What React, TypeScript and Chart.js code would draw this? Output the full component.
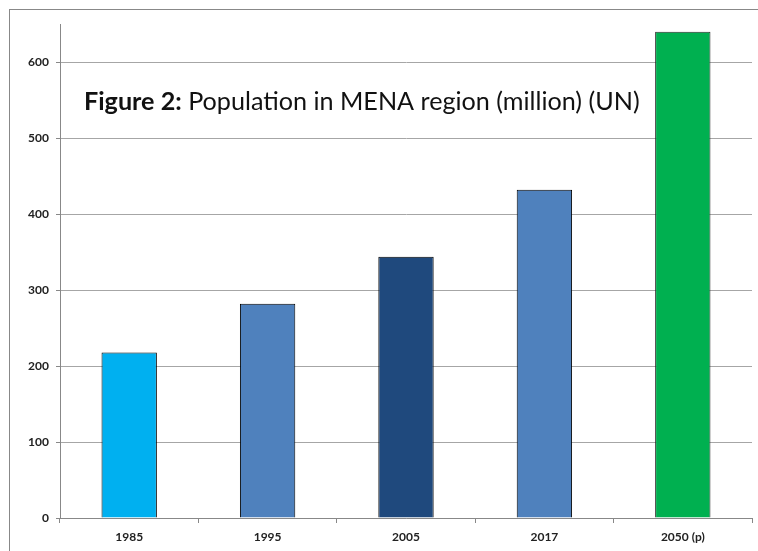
import React, { useEffect, useRef } from "react";
import { Chart, registerables } from "chart.js";

Chart.register(...registerables);

const categories = ["1985", "1995", "2005", "2017", "2050 (p)"];
const population = [218, 282, 344, 432, 640];
const barColors = ["#00B0F0", "#4F81BD", "#1F497D", "#4F81BD", "#00B050"];
const barBorders = ["#000000", "#000000", "#000000", "#000000", "#2a2a2a"];
const yTicks = [0, 100, 200, 300, 400, 500, 600];
const yMin = 0;
const yMax = 650;
const titleBold = "Figure 2:";
const titleRest = " Population in MENA region (million) (UN)";

const FONT = "Lato, 'Open Sans', 'DejaVu Sans', sans-serif";

const titlePlugin = {
  id: "insideTitle",
  afterDraw(chart: any) {
    const ctx = chart.ctx as CanvasRenderingContext2D;
    const area = chart.chartArea;
    const targetWidth = 556;
    ctx.save();
    let size = 24;
    ctx.font = `bold ${size}px ${FONT}`;
    const w1 = ctx.measureText(titleBold).width;
    ctx.font = `${size}px ${FONT}`;
    const w2 = ctx.measureText(titleRest).width;
    size = (size * targetWidth) / (w1 + w2);
    const x = area.left + 24;
    const y = 100;
    ctx.fillStyle = "#111111";
    ctx.textBaseline = "alphabetic";
    ctx.textAlign = "left";
    ctx.font = `bold ${size}px ${FONT}`;
    ctx.fillText(titleBold, x, y);
    const bw = ctx.measureText(titleBold).width;
    ctx.font = `${size}px ${FONT}`;
    ctx.fillText(titleRest, x + bw, y);
    ctx.restore();
  },
};

export default function App() {
  const canvasRef = useRef<HTMLCanvasElement | null>(null);

  useEffect(() => {
    if (!canvasRef.current) return;
    const chart = new Chart(canvasRef.current, {
      type: "bar",
      data: {
        labels: categories,
        datasets: [
          {
            data: population,
            backgroundColor: barColors,
            borderColor: barBorders,
            borderWidth: 1,
            barPercentage: 0.4,
            categoryPercentage: 1,
          },
        ],
      },
      options: {
        animation: false,
        responsive: false,
        maintainAspectRatio: false,
        devicePixelRatio: 1,
        layout: { padding: { left: 0, right: 6, top: 8, bottom: 0 } },
        plugins: {
          legend: { display: false },
          title: { display: false },
          tooltip: { enabled: false },
        },
        scales: {
          x: {
            offset: true,
            grid: {
              display: true,
              drawOnChartArea: false,
              drawTicks: true,
              tickLength: 5,
              tickColor: "#888888",
              offset: true,
            },
            border: { display: true, color: "#888888", width: 1 },
            ticks: {
              color: "#222222",
              padding: 7,
              font: { family: FONT, size: 12, weight: "bold" },
              maxRotation: 0,
            },
            afterFit(scale: any) {
              scale.height = 33;
            },
          },
          y: {
            min: yMin,
            max: yMax,
            grid: {
              color: "#a6a6a6",
              lineWidth: 1,
              drawTicks: true,
              tickLength: 4,
              tickColor: "#888888",
            },
            border: { display: true, color: "#888888", width: 1 },
            ticks: {
              color: "#222222",
              padding: 7,
              font: { family: FONT, size: 12, weight: "bold" },
            },
            afterBuildTicks(scale: any) {
              scale.ticks = yTicks.map((v) => ({ value: v }));
            },
            afterFit(scale: any) {
              scale.width = 50;
            },
          },
        },
      },
      plugins: [titlePlugin],
    });
    return () => chart.destroy();
  }, []);

  return (
    <div
      style={{
        position: "absolute",
        left: 9,
        top: 9,
        width: 749,
        height: 542,
        boxSizing: "border-box",
        borderTop: "1px solid #888888",
        borderLeft: "1px solid #888888",
        background: "#ffffff",
      }}
    >
      <canvas ref={canvasRef} width={748} height={541} style={{ display: "block" }} />
    </div>
  );
}
